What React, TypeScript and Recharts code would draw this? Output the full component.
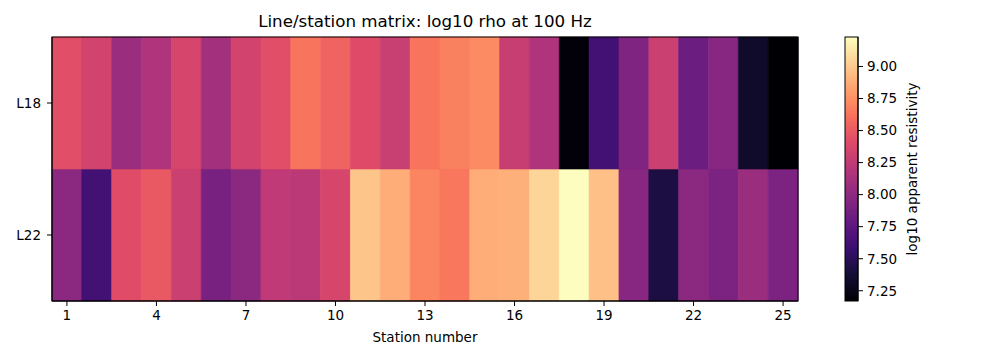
import { BarChart, Bar, XAxis, YAxis, Cell } from 'recharts'

// station numbers along each survey line
const stations = [1, 2, 3, 4, 5, 6, 7, 8, 9, 10, 11, 12, 13, 14, 15, 16, 17, 18, 19, 20, 21, 22, 23, 24, 25]

// log10 apparent resistivity at 100 Hz, per station
const l18Values = [8.43, 8.34, 8.06, 8.16, 8.36, 8.10, 8.34, 8.43, 8.63, 8.55, 8.41, 8.29, 8.63, 8.68, 8.72, 8.28, 8.16, 7.19, 7.62, 7.93, 8.30, 7.83, 7.97, 7.33, 7.17]
const l22Values = [7.99, 7.62, 8.42, 8.49, 8.30, 7.89, 7.99, 8.24, 8.22, 8.36, 8.98, 8.88, 8.70, 8.64, 8.88, 8.89, 9.05, 9.23, 8.96, 7.97, 7.42, 7.99, 7.91, 8.06, 7.91]

const lineLabels = ['L22', 'L18']
const colorbarTicks = [7.25, 7.5, 7.75, 8.0, 8.25, 8.5, 8.75, 9.0]

const vmin = Math.min(...l18Values, ...l22Values)
const vmax = Math.max(...l18Values, ...l22Values)

// magma colormap stops
const MAGMA: [number, string][] = [
  [0.0, '#000004'],
  [0.1, '#140e36'],
  [0.2, '#3b0f70'],
  [0.25, '#51127c'],
  [0.3, '#641a80'],
  [0.4, '#8c2981'],
  [0.5, '#b73779'],
  [0.6, '#de4968'],
  [0.7, '#f7705c'],
  [0.75, '#fc8961'],
  [0.8, '#fe9f6d'],
  [0.9, '#fecf92'],
  [1.0, '#fcfdbf']
]

const hexToRgb = (h: string) => [1, 3, 5].map((i) => parseInt(h.slice(i, i + 2), 16))

const magma = (t: number) => {
  const x = Math.max(0, Math.min(1, t))
  for (let i = 1; i < MAGMA.length; i++) {
    const [t1, c1] = MAGMA[i]
    if (x <= t1) {
      const [t0, c0] = MAGMA[i - 1]
      const f = (x - t0) / (t1 - t0)
      const a = hexToRgb(c0)
      const b = hexToRgb(c1)
      const rgb = a.map((v, k) => Math.round(v + (b[k] - v) * f))
      return `rgb(${rgb.join(',')})`
    }
  }
  return MAGMA[MAGMA.length - 1][1]
}

const colorFor = (v: number) => magma((v - vmin) / (vmax - vmin))

const font = { fontFamily: 'DejaVu Sans, sans-serif', fontSize: 13.5, fill: '#000' }

const data = stations.map((s, i) => ({ station: s, l22: 1, l18: 1, v22: l22Values[i], v18: l18Values[i] }))
const colorbarData = [{ name: 'cb', range: [vmin, vmax] }]

export default function App() {
  return (
    <div style={{ position: 'absolute', left: 0, top: 0, width: 1000, height: 360, background: '#fff' }}>
      <div
        style={{
          position: 'absolute',
          left: 0,
          width: 850,
          top: 11,
          textAlign: 'center',
          fontFamily: 'DejaVu Sans, sans-serif',
          fontSize: 16.7,
          color: '#000'
        }}
      >
        Line/station matrix: log10 rho at 100 Hz
      </div>

      <div style={{ position: 'absolute', left: 0, top: 0 }}>
        <BarChart
          width={1000}
          height={360}
          data={data}
          margin={{ top: 37, right: 202, bottom: 14, left: 0 }}
          barCategoryGap={0}
          barGap={0}
        >
          <XAxis
            dataKey="station"
            interval={2}
            tickSize={5}
            tickMargin={4}
            tick={font}
            stroke="#000"
            height={45}
            label={{ value: 'Station number', position: 'insideBottom', offset: 4, style: font }}
          />
          <YAxis
            type="number"
            domain={[0, 2]}
            ticks={[0.5, 1.5]}
            tickFormatter={(v: number) => lineLabels[v > 1 ? 1 : 0]}
            tickSize={5}
            tickMargin={6}
            tick={font}
            stroke="#000"
            width={52}
          />
          <Bar dataKey="l22" stackId="m" isAnimationActive={false}>
            {data.map((d, i) => (
              <Cell key={`l22-${i}`} fill={colorFor(d.v22)} stroke={colorFor(d.v22)} strokeWidth={0.6} />
            ))}
          </Bar>
          <Bar dataKey="l18" stackId="m" isAnimationActive={false}>
            {data.map((d, i) => (
              <Cell key={`l18-${i}`} fill={colorFor(d.v18)} stroke={colorFor(d.v18)} strokeWidth={0.6} />
            ))}
          </Bar>
        </BarChart>
      </div>

      {/* colorbar */}
      <div style={{ position: 'absolute', left: 845, top: 0 }}>
        <BarChart
          width={121}
          height={360}
          data={colorbarData}
          margin={{ top: 37, right: 0, bottom: 59, left: 0 }}
          barCategoryGap={0}
        >
          <defs>
            <linearGradient id="magmaGrad" x1="0" y1="1" x2="0" y2="0">
              {MAGMA.map(([t, c]) => (
                <stop key={t} offset={`${t * 100}%`} stopColor={c} />
              ))}
            </linearGradient>
          </defs>
          <XAxis dataKey="name" hide />
          <YAxis
            orientation="right"
            type="number"
            domain={[vmin, vmax]}
            allowDataOverflow
            ticks={colorbarTicks}
            tickFormatter={(v: number) => v.toFixed(2)}
            tickSize={5}
            tickMargin={4}
            tick={font}
            stroke="#000"
            width={108}
            label={{ value: 'log10 apparent resistivity', angle: -90, position: 'center', style: font }}
          />
          <Bar dataKey="range" fill="url(#magmaGrad)" isAnimationActive={false} />
        </BarChart>
      </div>

      {/* axes frames (spines) for the matrix and the colorbar */}
      <svg width={1000} height={360} style={{ position: 'absolute', left: 0, top: 0, pointerEvents: 'none' }}>
        <rect x={52} y={37} width={746} height={264} fill="none" stroke="#000" strokeWidth={1} />
        <rect x={845} y={37} width={13} height={264} fill="none" stroke="#000" strokeWidth={1} />
      </svg>
    </div>
  )
}
